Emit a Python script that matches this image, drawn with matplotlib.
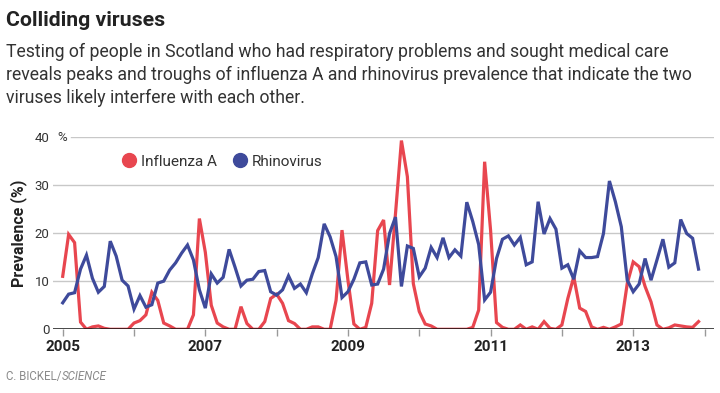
import matplotlib

matplotlib.use("Agg")
import matplotlib.pyplot as plt
from matplotlib.lines import Line2D
import numpy as np

plt.rcParams["font.family"] = ["Roboto", "DejaVu Sans"]

# monthly prevalence (%), Jan 2005 .. Dec 2013
influenza_a = [
    11.0, 19.7, 18.0, 1.5, 0.0, 0.5, 0.7, 0.2, 0.0, 0.0, 0.0, 0.0,
    1.3, 1.8, 3.0, 7.7, 6.0, 1.3, 0.7, 0.0, 0.0, 0.0, 3.0, 23.0,
    16.0, 5.0, 1.3, 0.5, 0.0, 0.0, 4.7, 1.2, 0.0, 0.0, 1.6, 6.4,
    7.3, 5.4, 1.8, 1.2, 0.0, 0.0, 0.5, 0.5, 0.0, 0.0, 6.0, 20.6,
    10.2, 1.1, 0.0, 0.4, 5.4, 20.5, 22.7, 9.2, 24.0, 39.2, 31.7, 9.5,
    3.7, 1.1, 0.7, 0.0, 0.0, 0.0, 0.0, 0.0, 0.0, 0.4, 4.0, 34.8,
    20.6, 1.4, 0.4, 0.0, 0.0, 0.9, 0.0, 0.5, 0.0, 1.6, 0.2, 0.0,
    0.9, 6.4, 10.9, 4.4, 3.7, 0.5, 0.0, 0.4, 0.0, 0.5, 1.1, 9.5,
    14.0, 13.0, 8.9, 5.7, 0.9, 0.0, 0.3, 0.9, 0.7, 0.5, 0.4, 1.6,
]
rhinovirus = [
    5.5, 7.3, 7.6, 12.5, 15.4, 10.6, 7.7, 8.9, 18.3, 15.2, 10.2, 9.0,
    4.2, 7.0, 4.6, 5.1, 9.6, 10.0, 12.3, 13.8, 15.8, 17.5, 14.4, 8.2,
    4.4, 11.5, 9.6, 10.8, 16.6, 12.9, 9.0, 10.2, 10.4, 12.0, 12.2, 7.8,
    7.1, 8.2, 11.1, 8.5, 9.4, 7.6, 11.5, 14.9, 21.9, 19.2, 15.1, 6.6,
    7.8, 10.4, 13.8, 14.0, 9.2, 9.4, 12.5, 19.9, 23.3, 8.9, 17.3, 16.8,
    10.9, 12.7, 17.0, 14.9, 19.0, 14.9, 16.5, 15.2, 26.4, 22.4, 17.6, 6.1,
    7.7, 14.7, 18.7, 19.4, 17.5, 19.1, 13.4, 14.0, 26.5, 19.8, 23.0, 20.8,
    12.7, 13.4, 10.4, 16.3, 14.9, 14.9, 15.1, 19.9, 30.8, 26.5, 21.3, 10.2,
    7.8, 9.4, 14.7, 10.2, 14.4, 18.7, 12.9, 13.8, 22.8, 19.9, 18.9, 12.5,
]
years = list(range(2005, 2015))
year_labels = ["2005", "", "2007", "", "2009", "", "2011", "", "2013", ""]
y_ticks = [0, 10, 20, 30, 40]
y_labels = ["0", "10", "20", "30", "40"]

RED = "#e8464f"
BLUE = "#3e4a9b"
W, H = 720, 393

months = 2005 + np.arange(len(influenza_a)) / 12.0

fig = plt.figure(figsize=(W / 100, H / 100), dpi=100)
x0, x1 = 53, 714
y0, y1 = 329.3, 136.7
ax = fig.add_axes([x0 / W, 1 - y0 / H, (x1 - x0) / W, (y0 - y1) / H])

# year 2005 at px 62.7, 2014 at px 704.5
px_per_year = (704.5 - 62.7) / 9
ax.set_xlim(2005 - (62.7 - x0) / px_per_year, 2014 + (x1 - 704.5) / px_per_year)
ax.set_ylim(0, 40)

for v in y_ticks[1:]:
    start = (71 - x0) / (x1 - x0) if v == 40 else 0
    ax.axhline(v, xmin=start, color="#c8c8c8", lw=1.0, zorder=0)
ax.axhline(0, color="#111111", lw=1.8, zorder=3)

ax.plot(months, influenza_a, color=RED, lw=2.3, solid_joinstyle="miter", zorder=2)
ax.plot(months, rhinovirus, color=BLUE, lw=2.3, solid_joinstyle="miter", zorder=2)

for s in ax.spines.values():
    s.set_visible(False)
ax.set_yticks(y_ticks, y_labels)
ax.tick_params(axis="y", length=0, pad=2.5, labelsize=9.5, labelcolor="#333333")
ax.set_xticks(years, year_labels)
ax.tick_params(axis="x", length=5, width=1, color="#999999", pad=3,
               labelsize=11, labelcolor="#222222")
for lab in ax.get_xticklabels():
    lab.set_fontweight("bold")
fig.text(57 / W, 1 - 140.5 / H, "%", fontsize=9.5, color="#333333", va="baseline")

ax.set_ylabel("Prevalence (%)", fontsize=11.5, fontweight="bold", color="#222222")
ax.yaxis.set_label_coords(-(53 - 27) / (x1 - x0), 0.5)

handles = [
    Line2D([], [], marker="o", ls="", color=RED, markersize=10),
    Line2D([], [], marker="o", ls="", color=BLUE, markersize=10),
]
ax.legend(handles, ["Influenza A", "Rhinovirus"], ncol=2, frameon=False,
          loc="center left", bbox_to_anchor=(112 / W, 1 - 161.7 / H),
          bbox_transform=fig.transFigure, fontsize=11, handletextpad=0.2,
          columnspacing=0.9, labelcolor="#333333", borderpad=0, handlelength=1.2)

fig.text(6 / W, 1 - 26 / H, "Colliding viruses", fontsize=15.3, fontweight="bold",
         color="#222222", va="baseline")
subtitle = [
    "Testing of people in Scotland who had respiratory problems and sought medical care",
    "reveals peaks and troughs of influenza A and rhinovirus prevalence that indicate the two",
    "viruses likely interfere with each other.",
]
for k, line in enumerate(subtitle):
    fig.text(6 / W, 1 - (57.3 + 23 * k) / H, line, fontsize=12.7, color="#333333",
             va="baseline")

credit = fig.text(6 / W, 1 - 380 / H, "C. BICKEL/", fontsize=8.3, color="#8a8a8a",
                  va="baseline")
fig.canvas.draw()
bb = credit.get_window_extent()
fig.text(bb.x1 / W, 1 - 380 / H, "SCIENCE", fontsize=8.3, color="#8a8a8a",
         style="italic", va="baseline")

fig.savefig("out.png", dpi=100)
